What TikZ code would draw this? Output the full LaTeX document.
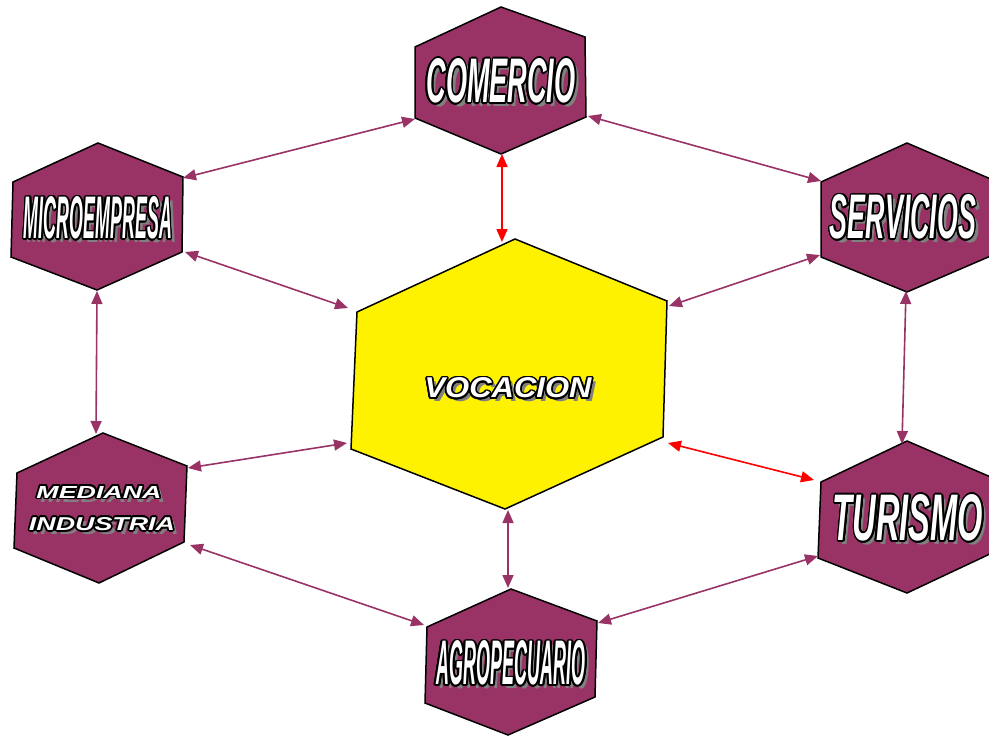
\documentclass[tikz,border=0pt]{standalone}
\usepackage{fontspec}
\setmainfont{Liberation Sans}
\usetikzlibrary{arrows.meta,calc}
\definecolor{hexpurple}{HTML}{993366}
\definecolor{shadowgray}{HTML}{808080}
\tikzset{
  hexbox/.style={draw=black, line width=1.5pt, fill=hexpurple, line join=miter},
  corebox/.style={draw=black, line width=1.5pt, fill=yellow, line join=miter},
  link/.style={draw=hexpurple, line width=1.6pt,
    {Triangle[length=13pt,width=11pt]}-{Triangle[length=13pt,width=11pt]}},
  redlink/.style={link, draw=red},
}
\newcommand\wordart[5]{%
  \node[inner sep=0, text=shadowgray] at ($(#2)+(4,4)$) {\resizebox{#3}{#4}{\bfseries\itshape #5}};
  \foreach \ang in {0,22.5,...,337.5}{%
    \node[inner sep=0, text=black] at ($(#2)+(\ang:1.7)$) {\resizebox{#3}{#4}{\bfseries\itshape #5}};}
  \node[inner sep=0, text=white] (#1) at (#2) {\resizebox{#3}{#4}{\bfseries\itshape #5}};
}
\begin{document}
\begin{tikzpicture}[x=1pt,y=-1pt]
\clip (0,0) rectangle (989,736);
\fill[white] (0,0) rectangle (989,736);

% hexagons
\draw[hexbox] (501,7) -- (585,37) -- (586,117) -- (501,154) -- (415,118) -- (415,47) -- cycle;
\draw[hexbox] (98,143) -- (183,177) -- (182,252) -- (97,290) -- (11,257) -- (13,182) -- cycle;
\draw[hexbox] (103,433) -- (187,466) -- (184,542) -- (99,583) -- (14,548) -- (17,473) -- cycle;
\draw[hexbox] (907,143) -- (993,180) -- (993,255) -- (907,292) -- (821,257) -- (821,182) -- cycle;
\draw[hexbox] (907,441) -- (993,478) -- (992,553) -- (907,593) -- (818,558) -- (821,482) -- cycle;
\draw[hexbox] (511,589) -- (597,621) -- (595,697) -- (508,735) -- (425,703) -- (427,627) -- cycle;
\draw[corebox] (515,239) -- (667,301) -- (663,437) -- (505,509) -- (351,449) -- (357,312) -- cycle;

% connector end points
\coordinate (micro-ne) at (183,178);
\coordinate (com-sw) at (415,119);
\coordinate (com-se) at (588,116);
\coordinate (serv-nw) at (821,181);
\coordinate (micro-se) at (185,252);
\coordinate (voc-nw) at (348,308);
\coordinate (serv-sw) at (820,255);
\coordinate (voc-ne) at (669,306);
\coordinate (com-s) at (502,154);
\coordinate (voc-n) at (502,242);
\coordinate (micro-s) at (97,291);
\coordinate (med-n) at (96,434);
\coordinate (serv-s) at (906,291);
\coordinate (tur-n) at (902,444);
\coordinate (med-ne) at (188,468);
\coordinate (voc-sw) at (347,443);
\coordinate (voc-se) at (668,443);
\coordinate (tur-nw) at (814,480);
\coordinate (voc-s) at (508,510);
\coordinate (agro-n) at (508,588);
\coordinate (med-se) at (190,545);
\coordinate (agro-nw) at (424,625);
\coordinate (tur-sw) at (818,556);
\coordinate (agro-ne) at (598,623);

% connectors
\draw[link] (micro-ne) -- (com-sw);
\draw[link] (com-se) -- (serv-nw);
\draw[link] (micro-se) -- (voc-nw);
\draw[link] (serv-sw) -- (voc-ne);
\draw[redlink] (com-s) -- (voc-n);
\draw[link] (micro-s) -- (med-n);
\draw[link] (serv-s) -- (tur-n);
\draw[link] (med-ne) -- (voc-sw);
\draw[redlink] (voc-se) -- (tur-nw);
\draw[link] (voc-s) -- (agro-n);
\draw[link] (med-se) -- (agro-nw);
\draw[link] (tur-sw) -- (agro-ne);

% labels
\wordart{comercio}{501,81}{149pt}{44pt}{COMERCIO}
\wordart{micro}{98,218}{148pt}{42pt}{MICROEMPRESA}
\wordart{servicios}{903,217}{146pt}{44pt}{SERVICIOS}
\wordart{turismo}{908,518}{150pt}{46pt}{TURISMO}
\wordart{agro}{511,663}{149pt}{44pt}{AGROPECUARIO}
\wordart{vocacion}{508,388}{167pt}{20pt}{VOCACION}
\wordart{mediana}{99,492}{125pt}{12pt}{MEDIANA}
\wordart{industria}{102,524}{146pt}{13pt}{INDUSTRIA}
\end{tikzpicture}
\end{document}
